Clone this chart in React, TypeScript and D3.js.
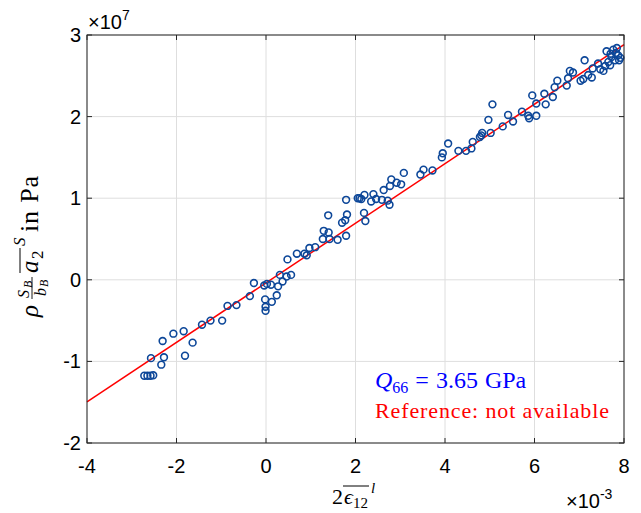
import React from "react";
import * as d3 from "d3";

// x in units of 1e-3, y in units of 1e7 Pa
const xVals: number[] = [
  -2.72, -2.65, -2.58, -2.52, -2.57, -2.34, -2.28, -2.31, -2.07, -1.84,
  -1.81, -1.64, -1.43, -1.24, -0.98, -0.86, -0.66, -0.36, -0.27, -0.04,
  0.02, -0.02, -0.01, -0.01, 0.11, 0.13, 0.24, 0.27, 0.31, 0.37,
  0.46, 0.56, 0.48, 0.69, 0.86, 0.91, 0.97, 1.10, 1.29, 1.40,
  1.27, 1.42, 1.39, 1.60, 1.70, 1.77, 1.81, 1.79, 1.79, 2.05,
  2.09, 2.13, 2.20, 2.19, 2.22, 2.35, 2.40, 2.46, 2.59, 2.63,
  2.72, 2.76, 2.77, 2.80, 2.92, 3.02, 3.08, 3.45, 3.52, 3.72,
  3.93, 3.95, 4.07, 4.30, 4.47, 4.59, 4.62, 4.78, 4.81, 4.83,
  5.02, 4.97, 5.06, 5.29, 5.41, 5.52, 5.72, 5.86, 5.88, 6.04,
  5.95, 6.04, 6.22, 6.25, 6.41, 6.45, 6.51, 6.72, 6.75, 6.79,
  6.86, 7.03, 7.09, 7.12, 7.20, 7.28, 7.30, 7.42, 7.47, 7.54,
  7.61, 7.65, 7.69, 7.72, 7.76, 7.80, 7.84, 7.87, 7.89, 7.70,
  7.82, 7.92, 7.58,
];
const yVals: number[] = [
  -1.175, -1.175, -1.175, -1.17, -0.96, -1.04, -0.95, -0.75, -0.66, -0.63,
  -0.93, -0.77, -0.55, -0.5, -0.5, -0.32, -0.31, -0.2, -0.04, -0.07,
  -0.05, -0.24, -0.33, -0.38, -0.06, -0.27, -0.19, -0.08, 0.06, -0.02,
  0.04, 0.06, 0.25, 0.32, 0.32, 0.3, 0.39, 0.4, 0.6, 0.58,
  0.5, 0.5, 0.79, 0.49, 0.7, 0.73, 0.8, 0.54, 0.98, 1.0,
  1.0, 0.99, 1.04, 0.82, 0.72, 0.96, 1.05, 0.99, 0.98, 1.1,
  0.97, 0.92, 1.15, 1.23, 1.19, 1.17, 1.31, 1.29, 1.35, 1.34,
  1.5, 1.55, 1.67, 1.58, 1.58, 1.61, 1.69, 1.75, 1.77, 1.8,
  1.8, 1.96, 2.15, 1.88, 2.02, 1.94, 2.06, 2.01, 1.98, 2.01,
  2.26, 2.16, 2.28, 2.15, 2.24, 2.36, 2.44, 2.38, 2.47, 2.56,
  2.54, 2.44, 2.46, 2.69, 2.51, 2.48, 2.59, 2.65, 2.58, 2.56,
  2.8, 2.67, 2.63, 2.73, 2.82, 2.69, 2.84, 2.75, 2.69, 2.77,
  2.78, 2.72, 2.62,
];
const fitX: number[] = [-4, 8];
const fitY: number[] = [-1.497, 2.883];
const xTicks: number[] = [-4, -2, 0, 2, 4, 6, 8];
const yTicks: number[] = [-2, -1, 0, 1, 2, 3];

const W = 641;
const H = 513;
const L = 87;
const R = 624;
const T = 35;
const B = 443;

const SANS = "'Liberation Sans', Arial, Helvetica, sans-serif";
const SERIF = "'Liberation Serif', 'Times New Roman', serif";

export default function App() {
  const x = d3.scaleLinear().domain([-4, 8]).range([L, R]);
  const y = d3.scaleLinear().domain([-2, 3]).range([B, T]);
  const line = d3
    .line<number>()
    .x((_, i) => x(fitX[i]))
    .y((d) => y(d));
  const axisCol = "#262626";
  const gridCol = "#dedede";
  const tk = 5;
  return (
    <svg
      width={W}
      height={H}
      style={{ position: "absolute", left: 0, top: 0, background: "#fff" }}
    >
      <rect x={0} y={0} width={W} height={H} fill="#fff" />
      {xTicks.map((t) => (
        <line key={"gx" + t} x1={x(t)} x2={x(t)} y1={T} y2={B} stroke={gridCol} strokeWidth={1} />
      ))}
      {yTicks.map((t) => (
        <line key={"gy" + t} x1={L} x2={R} y1={y(t)} y2={y(t)} stroke={gridCol} strokeWidth={1} />
      ))}
      <path d={line(fitY) || ""} fill="none" stroke="#ff0000" strokeWidth={1.5} />
      {xVals.map((v, i) => (
        <circle
          key={"p" + i}
          cx={x(v)}
          cy={y(yVals[i])}
          r={3.4}
          fill="none"
          stroke="#0d4799"
          strokeWidth={1.6}
        />
      ))}
      <rect x={L} y={T} width={R - L} height={B - T} fill="none" stroke={axisCol} strokeWidth={1} />
      {xTicks.map((t) => (
        <g key={"tx" + t}>
          <line x1={x(t)} x2={x(t)} y1={B} y2={B - tk} stroke={axisCol} />
          <line x1={x(t)} x2={x(t)} y1={T} y2={T + tk} stroke={axisCol} />
          <text x={x(t)} y={473} textAnchor="middle" fontFamily={SANS} fontSize={20} fill="#000">
            {t}
          </text>
        </g>
      ))}
      {yTicks.map((t) => (
        <g key={"ty" + t}>
          <line x1={L} x2={L + tk} y1={y(t)} y2={y(t)} stroke={axisCol} />
          <line x1={R} x2={R - tk} y1={y(t)} y2={y(t)} stroke={axisCol} />
          <text x={81} y={y(t) + 7} textAnchor="end" fontFamily={SANS} fontSize={20} fill="#000">
            {t}
          </text>
        </g>
      ))}
      <text x={88} y={29} fontFamily={SANS} fontSize={20} fill="#000">
        ×10<tspan dy={-9} fontSize={14}>7</tspan>
      </text>
      <text x={566} y={508} fontFamily={SANS} fontSize={20} fill="#000">
        ×10<tspan dy={-9} fontSize={14}>-3</tspan>
      </text>
      {/* x label */}
      <g fontFamily={SERIF} fill="#000">
        <text x={332} y={504} fontSize={22}>2</text>
        <text x={344} y={504} fontSize={22} fontStyle="italic">ϵ</text>
        <text x={353} y={508} fontSize={15}>12</text>
        <line x1={343} x2={369} y1={486} y2={486} stroke="#000" strokeWidth={1} />
        <text x={371} y={493} fontSize={15} fontStyle="italic">l</text>
      </g>
      {/* y label */}
      <g transform="translate(38,0) rotate(-90)" fontFamily={SERIF} fill="#000">
        <text x={-317} y={0} fontSize={25} fontStyle="italic">ρ</text>
        <text x={-298} y={-9} fontSize={16} fontStyle="italic">S</text>
        <text x={-288} y={-6} fontSize={12} fontStyle="italic">B</text>
        <line x1={-299} x2={-277} y1={-6} y2={-6} stroke="#000" strokeWidth={0.9} />
        <text x={-296} y={8} fontSize={16} fontStyle="italic">b</text>
        <text x={-287} y={10} fontSize={12} fontStyle="italic">B</text>
        <line x1={-273} x2={-248} y1={-18} y2={-18} stroke="#000" strokeWidth={1} />
        <text x={-273} y={0} fontSize={25} fontStyle="italic">a</text>
        <text x={-259} y={5} fontSize={17}>2</text>
        <text x={-246} y={-13} fontSize={17} fontStyle="italic">S</text>
        <text x={-232} y={0} fontSize={26} textLength={56}>in Pa</text>
      </g>
      <g fontFamily={SERIF}>
        <text x={375} y={388} fontSize={24} fill="#0000ff">
          <tspan fontStyle="italic">Q</tspan>
          <tspan dy={5} fontSize={16}>66</tspan>
          <tspan dy={-5} dx={7}>=</tspan>
          <tspan dx={7}>3.65</tspan>
          <tspan dx={7}>GPa</tspan>
        </text>
        <text x={375} y={418} fontSize={22} fill="#ff0000" textLength={234}>
          Reference: not available
        </text>
      </g>
    </svg>
  );
}
